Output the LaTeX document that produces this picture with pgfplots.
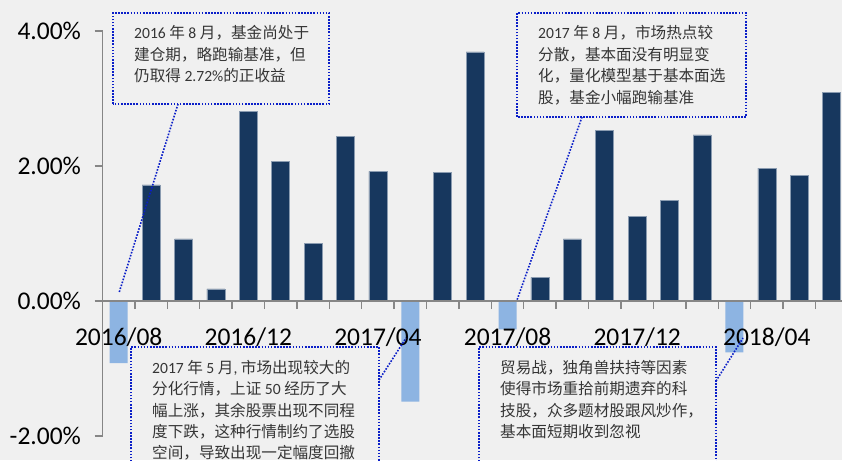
\documentclass[border=0pt]{standalone}
\usepackage{pgfplots}
\pgfplotsset{compat=1.18}
\usepackage{fontspec}
\setmainfont{Carlito}
\newfontfamily\cjk{Noto Sans CJK SC}
\newcommand\zh[1]{{\cjk #1}}
\definecolor{bg}{HTML}{F0F0F0}
\definecolor{navy}{HTML}{17375E}
\definecolor{navyedge}{HTML}{8A9BB0}
\definecolor{lblue}{HTML}{8DB4E2}
\definecolor{dblue}{HTML}{0A1EC8}
\definecolor{axgray}{HTML}{868686}
\definecolor{txt}{HTML}{353535}
\tikzset{
  ann/.style={draw=dblue, line width=1.6pt, dash pattern=on 1.6pt off 1.5pt},
  tl/.style={anchor=base west, inner sep=0pt, text=txt, font=\fontsize{15.6}{21}\selectfont}
}
\begin{document}
\begin{tikzpicture}
\fill[bg] (0pt,0pt) rectangle (842pt,460pt);
\useasboundingbox (0pt,0pt) rectangle (842pt,460pt);
\begin{axis}[
  at={(102.5pt,24pt)}, anchor=south west, scale only axis,
  width=739.5pt, height=405pt,
  xmin=-0.5, xmax=22.32, ymin=-2, ymax=4,
  axis x line=middle, axis y line=left,
  axis on top,
  axis line style={-, draw=axgray, line width=1.4pt},
  tick style={draw=axgray, line width=1.4pt},
  major tick length=8pt, tick align=outside, xtick align=outside,
  ytick={-2,0,2,4},
  yticklabel={\pgfmathprintnumber[fixed,fixed zerofill,precision=2]{\tick}\%},
  yticklabel style={xshift=-10pt},
  /pgf/number format/assume math mode=true,
  xtick={0.5,1.5,...,21.5}, xticklabels={},
  extra x ticks={0,4,8,12,16,20},
  extra x tick labels={2016/08,2016/12,2017/04,2017/08,2017/12,2018/04},
  extra x tick style={major tick length=0pt,
    xticklabel style={yshift=-23pt}},
  ticklabel style={font=\fontsize{25.5}{30}\selectfont, text=black},
]
\addplot[ybar, bar shift=0pt, bar width=18pt, fill=navy, draw=navyedge, line width=0.6pt]
  coordinates {(1,1.72) (2,0.92) (3,0.18) (4,2.81) (5,2.07) (6,0.85) (7,2.44) (8,1.92)
               (10,1.90) (11,3.69) (13,0.35) (14,0.92) (15,2.53) (16,1.25) (17,1.49)
               (18,2.46) (20,1.97) (21,1.86) (22,3.09)};
\addplot[ybar, bar shift=0pt, bar width=18pt, fill=lblue, draw=none]
  coordinates {(0,-0.92) (9,-1.49) (12,-0.42) (19,-0.76)};
\end{axis}
% annotation boxes
\draw[ann] (113pt,356pt) rectangle (329pt,447pt);
\draw[ann] (178pt,356pt) -- (119pt,167pt);
\node[tl] at (134pt,421pt) {2016 \zh{年} 8 \zh{月，基金尚处于}};
\node[tl] at (134pt,399.5pt) {\zh{建仓期，略跑输基准，但}};
\node[tl] at (134pt,378pt) {\zh{仍取得} 2.72\%\zh{的正收益}};

\draw[ann] (517pt,343pt) rectangle (746pt,447pt);
\draw[ann] (582pt,343pt) -- (517pt,160pt);
\node[tl] at (538pt,421pt) {2017 \zh{年} 8 \zh{月，市场热点较}};
\node[tl] at (538pt,399.5pt) {\zh{分散，基本面没有明显变}};
\node[tl] at (538pt,378pt) {\zh{化，量化模型基于基本面选}};
\node[tl] at (538pt,356.5pt) {\zh{股，基金小幅跑输基准}};

\draw[ann] (131pt,-20pt) -- (131pt,113pt) -- (379pt,113pt) -- (379pt,-20pt);
\draw[ann] (379pt,80pt) -- (406pt,122pt);
\node[tl] at (152pt,86pt) {2017 \zh{年} 5 \zh{月}, \zh{市场出现较大的}};
\node[tl] at (152pt,65pt) {\zh{分化行情，上证} 50 \zh{经历了大}};
\node[tl] at (152pt,44pt) {\zh{幅上涨，其余股票出现不同程}};
\node[tl] at (152pt,23pt) {\zh{度下跌，这种行情制约了选股}};
\node[tl] at (152pt,2pt) {\zh{空间，导致出现一定幅度回撤}};

\draw[ann] (479pt,-20pt) -- (479pt,113pt) -- (716pt,113pt) -- (716pt,-20pt);
\draw[ann] (716pt,79pt) -- (743pt,122pt);
\node[tl] at (500pt,86pt) {\zh{贸易战，独角兽扶持等因素}};
\node[tl] at (500pt,65pt) {\zh{使得市场重拾前期遗弃的科}};
\node[tl] at (500pt,44pt) {\zh{技股，众多题材股跟风炒作，}};
\node[tl] at (500pt,23pt) {\zh{基本面短期收到忽视}};
\end{tikzpicture}
\end{document}
